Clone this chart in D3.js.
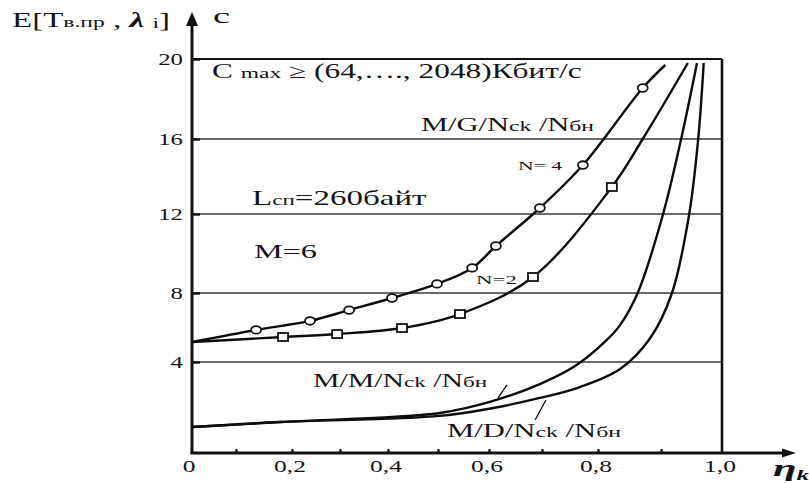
<!DOCTYPE html>
<html><head><meta charset="utf-8">
<script src="https://cdn.jsdelivr.net/npm/d3@7"></script>
<style>
body{margin:0;background:#fff}
svg{display:block}
text{font-family:"Liberation Serif","Times New Roman",serif;fill:#141414;white-space:pre}
</style>
</head><body><svg id="c" width="809" height="483"></svg>
<script>
// ---- data ----
const xTickValues = [0.1,0.2,0.3,0.4,0.5,0.6,0.7,0.8,0.9];
const xLabelValues = [0,0.2,0.4,0.6,0.8,1.0];
const xLabels = ["0","0,2","0,4","0,6","0,8","1,0"];
const yTickValues = [4,8,12,16,20];
const yLabels = ["4","8","12","16","20"];

// M/G/Nck/Nбн, N=4 (circles)
const n4LineEta = [0,0.136,0.2375,0.319,0.408,0.498,0.567,0.613,0.696,0.773,0.871,0.907];
const n4LineVal = [5.16,5.86,6.38,7.01,7.71,8.46,9.27,10.38,12.32,14.61,18.55,19.7];
const n4MarkEta = [0.136,0.2375,0.319,0.408,0.498,0.567,0.613,0.696,0.773,0.871];
const n4MarkVal = [5.86,6.38,7.01,7.71,8.46,9.27,10.38,12.32,14.61,18.55];
// N=2 (squares)
const n2LineEta = [0,0.184,0.294,0.428,0.543,0.683,0.822,0.871,0.944];
const n2LineVal = [5.16,5.45,5.62,5.97,6.78,8.81,13.44,16.0,19.8];
const n2MarkEta = [0.184,0.294,0.428,0.543,0.683,0.822];
const n2MarkVal = [5.45,5.62,5.97,6.78,8.81,13.44];
// M/M/Nck/Nбн
const mmEta = [0,0.179,0.504,0.608,0.696,0.759,0.814,0.835,0.863,0.903,0.933,0.959];
const mmVal = [1.14,1.36,1.76,2.29,3.03,3.82,5.28,6.14,8.0,11.95,16.0,19.8];
// M/D/Nck/Nбн
const mdEta = [0,0.179,0.504,0.608,0.696,0.768,0.835,0.883,0.918,0.946,0.961,0.970];
const mdVal = [1.14,1.36,1.63,1.98,2.42,2.90,3.69,5.39,8.0,11.95,16.0,19.8];
// leader lines (eta, value)
const mmLeaderEta = [0.617,0.634], mmLeaderVal = [2.42,2.99];
const mdLeaderEta = [0.687,0.707], mdLeaderVal = [1.45,2.33];

// ---- scales (hand-drawn original: piecewise) ----
const x = d3.scaleLinear().domain([0,0.1,0.2,0.3,0.4,0.5,0.6,0.7,0.8,0.9,1.0])
  .range([192,236,292,340,388,438,489,542,598,661,722]);
const y = d3.scaleLinear().domain([0,4,8,12,16,20]).range([453,362,293,214,139,59]);

const svg = d3.select("#c");

// grid lines
svg.append("g").selectAll("line").data([4,8,12,16]).join("line")
  .attr("x1",x(0)).attr("x2",x(1)).attr("y1",d=>y(d)).attr("y2",d=>y(d))
  .attr("stroke","#3a3a3a").attr("stroke-width",1.3);
// top frame (20) and right frame
svg.append("line").attr("x1",x(0)).attr("x2",x(1)).attr("y1",y(20)).attr("y2",y(20))
  .attr("stroke","#111").attr("stroke-width",2);
svg.append("line").attr("x1",x(1)).attr("x2",x(1)).attr("y1",y(20)).attr("y2",y(0))
  .attr("stroke","#111").attr("stroke-width",2.6);

// y axis
const yAxis = d3.axisLeft(y).tickValues(yTickValues).tickSize(-8).tickPadding(9)
  .tickFormat((d,i)=>yLabels[i]);
const gy = svg.append("g").attr("transform",`translate(${x(0)},0)`).call(yAxis);
gy.select(".domain").remove();
gy.selectAll(".tick line").attr("stroke","#111").attr("stroke-width",2.4);
gy.selectAll(".tick text").attr("font-size",16).attr("fill","#141414")
  .attr("font-family",'"Liberation Serif",serif')
  .attr("x",0).attr("dy","0.33em")
  .attr("transform","translate(-9,0) scale(1.55,1)");

// x axis
const xAxis = d3.axisBottom(x).tickValues(xTickValues).tickSize(-4).tickFormat("");
const gx = svg.append("g").attr("transform",`translate(0,${y(0)})`).call(xAxis);
gx.select(".domain").remove();
gx.selectAll(".tick line").attr("stroke","#111").attr("stroke-width",2.2);
svg.append("g").selectAll("text").data(xLabelValues).join("text")
  .attr("transform",(d,i)=>`translate(${x(d)+(i===0?-3:-2)},472) scale(1.5,1)`)
  .attr("text-anchor","middle").attr("font-size",17)
  .text((d,i)=>xLabels[i]);

// axis lines with arrows
svg.append("line").attr("x1",x(0)).attr("x2",x(0)).attr("y1",y(0)+1).attr("y2",24)
  .attr("stroke","#111").attr("stroke-width",3);
svg.append("path").attr("d",`M${x(0)},12 L${x(0)-6},26 L${x(0)+6},26 Z`).attr("fill","#111");
svg.append("line").attr("x1",x(0)-1.5).attr("x2",784).attr("y1",y(0)).attr("y2",y(0))
  .attr("stroke","#111").attr("stroke-width",3);
svg.append("path").attr("d",`M796,${y(0)} L782,${y(0)-4.5} L782,${y(0)+4.5} Z`).attr("fill","#111");

// curves
const line = d3.line().x(d=>x(d[0])).y(d=>y(d[1])).curve(d3.curveCatmullRom.alpha(0.5));
const curves = [
  [n4LineEta,n4LineVal],[n2LineEta,n2LineVal],[mmEta,mmVal],[mdEta,mdVal]
];
svg.append("g").selectAll("path").data(curves).join("path")
  .attr("d",d=>line(d[0].map((e,i)=>[e,d[1][i]])))
  .attr("fill","none").attr("stroke","#0d0d0d").attr("stroke-width",2.4);

// leaders
[[mmLeaderEta,mmLeaderVal],[mdLeaderEta,mdLeaderVal]].forEach(([e,v])=>{
  svg.append("line").attr("x1",x(e[0])).attr("y1",y(v[0])).attr("x2",x(e[1])).attr("y2",y(v[1]))
    .attr("stroke","#111").attr("stroke-width",1.3);
});

// markers
svg.append("g").selectAll("ellipse").data(n4MarkEta.map((e,i)=>[e,n4MarkVal[i]])).join("ellipse")
  .attr("cx",d=>x(d[0])).attr("cy",d=>y(d[1])).attr("rx",5).attr("ry",3.8)
  .attr("fill","#fff").attr("stroke","#111").attr("stroke-width",1.8);
svg.append("g").selectAll("rect").data(n2MarkEta.map((e,i)=>[e,n2MarkVal[i]])).join("rect")
  .attr("x",d=>x(d[0])-5).attr("y",d=>y(d[1])-4).attr("width",10).attr("height",8)
  .attr("fill","#fff").attr("stroke","#111").attr("stroke-width",1.8);

// stretched text helper
function fitText(px,py,width,parts){
  const t = svg.append("text").attr("x",0).attr("y",0);
  let cur = 0;
  parts.forEach(p=>{
    const sh = p.dy||0;
    const ts = t.append("tspan").text(p.t).attr("font-size",p.s).attr("dy",sh-cur);
    cur = sh;
    if(p.b) ts.attr("font-weight","bold");
    if(p.i) ts.attr("font-style","italic");
  });
  const w = t.node().getBBox().width;
  t.attr("transform",`translate(${px},${py}) scale(${width/w},1)`);
}
fitText(12,27,158,[{t:"E[T",s:21},{t:"в.пр",s:15},{t:" , ",s:21},{t:"λ",s:21,b:1,i:1},{t:" ",s:21},{t:"i",s:15,dy:1},{t:"]",s:21}]);
fitText(213,23,17,[{t:"c",s:21}]);
fitText(212,78,370,[{t:"C ",s:20},{t:"max",s:15},{t:" ≥ (64,…., 2048)Кбит/с",s:20}]);
fitText(421,131,174,[{t:"M/G/N",s:18},{t:"ck",s:14},{t:" /N",s:18},{t:"бн",s:14}]);
fitText(518,170,45,[{t:"N= 4",s:13}]);
fitText(252,205,175,[{t:"L",s:20},{t:"сп",s:14},{t:"=260байт",s:20}]);
fitText(254,258,63,[{t:"M=6",s:19}]);
fitText(476,284,41,[{t:"N=2",s:13}]);
fitText(313,387,175,[{t:"M/M/N",s:18},{t:"ck",s:14},{t:" /N",s:18},{t:"бн",s:14}]);
fitText(447,437,175,[{t:"M/D/N",s:18},{t:"ck",s:14},{t:" /N",s:18},{t:"бн",s:14}]);
fitText(773,476,36,[{t:"η",s:24,b:1,i:1},{t:"k",s:14,b:1,i:1,dy:4}]);
</script>
</body></html>
